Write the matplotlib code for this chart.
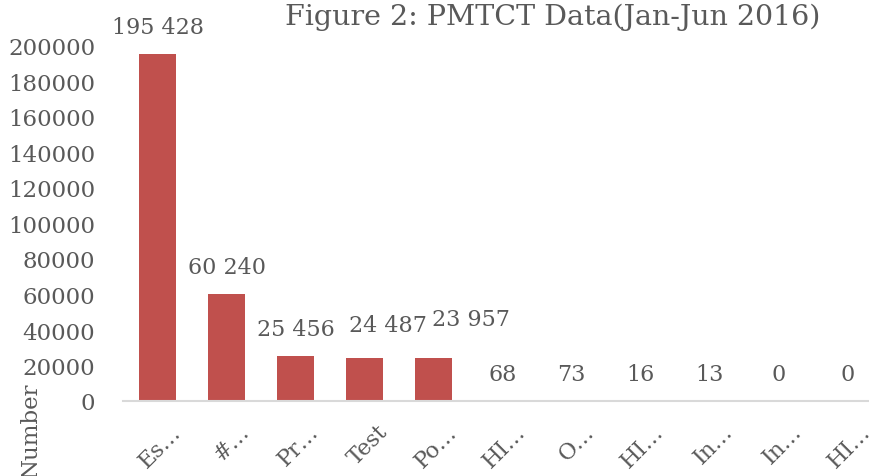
import matplotlib.pyplot as plt
import matplotlib.transforms as mtransforms
import numpy as np

# data
cats = ["Es…", "#…", "Pr…", "Test", "Po…", "HI…", "O…", "HI…", "In…", "In…", "HI…"]
values = [195428, 60240, 25456, 24487, 23957, 68, 73, 16, 13, 0, 0]
labels = ["195 428", "60 240", "25 456", "24 487", "23 957", "68", "73", "16", "13", "0", "0"]
yticks = list(range(0, 200001, 20000))

# a few data labels were nudged aside in the original (px)
label_dx = [0, 0, 0, 23, 37, 0, 0, 0, 0, 0, 0]
label_dy = [27, 27, 27, 33, 39, 27, 27, 27, 27, 27, 27]

txt = "#595959"
plt.rcParams['font.family'] = ['DejaVu Serif']

fig = plt.figure(figsize=(8.69, 4.77), dpi=100)
# plot area runs past the right edge, like the cropped original
ax = fig.add_axes([123 / 869, 1 - 402 / 477, 759 / 869, 355 / 477])

x = np.arange(len(cats))
ax.bar(x, values, width=0.55, color="#C0504D")
ax.set_xlim(-0.5, len(cats) - 0.5)
ax.set_ylim(0, 200000)
ax.set_yticks(yticks)
ax.set_yticklabels([str(t) for t in yticks], color=txt, fontsize=16.5)
ax.set_xticks(x)
ax.set_xticklabels(cats, rotation=45, ha="right", rotation_mode="anchor",
                   color=txt, fontsize=16)
ax.tick_params(axis="both", length=0)
ax.tick_params(axis="y", pad=20)
ax.tick_params(axis="x", pad=14)
shift = mtransforms.ScaledTranslation(12 / 100, 0, fig.dpi_scale_trans)
for t in ax.get_xticklabels():
    t.set_transform(t.get_transform() + shift)

for s in ["top", "right", "left"]:
    ax.spines[s].set_visible(False)
ax.spines["bottom"].set_color("#D9D9D9")
ax.spines["bottom"].set_linewidth(1.5)

for xi, v, lab, dx, dy in zip(x, values, labels, label_dx, label_dy):
    ax.annotate(lab, (xi, v), xytext=(dx * 0.72, dy * 0.72), textcoords="offset points",
                ha="center", va="center", color=txt, fontsize=16)

fig.text(553 / 869, 1 - 25 / 477, "Figure 2: PMTCT Data(Jan-Jun 2016)",
         ha="center", va="baseline", color=txt, fontsize=20.5)
fig.text(31 / 869, 1 - 430 / 477, "Number", rotation=90, ha="center",
         va="center", color=txt, fontsize=16.5)

fig.savefig("out.png", dpi=100)
